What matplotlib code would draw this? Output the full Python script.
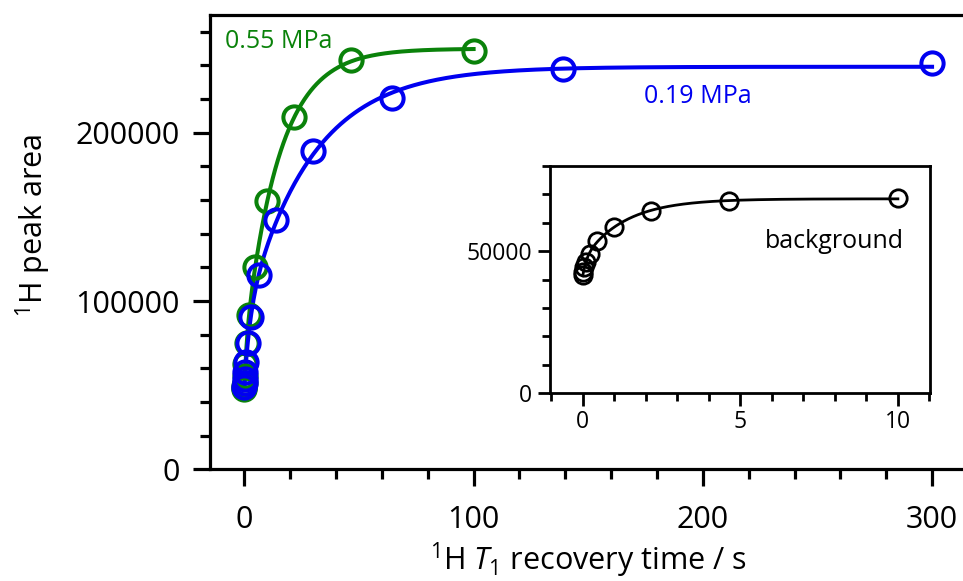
import numpy as np
import matplotlib
matplotlib.use("Agg")
import matplotlib.pyplot as plt
from matplotlib.ticker import MultipleLocator

plt.rcParams["font.family"] = ["Open Sans", "DejaVu Sans"]
plt.rcParams["mathtext.fontset"] = "custom"
plt.rcParams["mathtext.rm"] = "Open Sans"
plt.rcParams["mathtext.it"] = "Open Sans:italic"

# Saturation-recovery data (recovery time in s, 1H peak area)
green_t = [0.01, 0.0215, 0.0464, 0.1, 0.215, 0.464, 1, 2.15, 4.64, 10, 21.5, 46.4, 100]
green_area = [47500, 48300, 49500, 51500, 55500, 62500, 75000, 91500, 120200,
              159300, 209300, 243000, 248600]

blue_t = [0.03, 0.0646, 0.139, 0.3, 0.646, 1.39, 3, 6.46, 13.9, 30, 64.6, 139, 300]
blue_area = [49200, 51200, 53600, 58100, 64000, 75000, 90800, 115700, 148000,
             189000, 220800, 237700, 241200]

bg_t = [0.01, 0.0215, 0.0464, 0.1, 0.215, 0.464, 1, 2.15, 4.64, 10]
bg_area = [41600, 42800, 44500, 46300, 48900, 53600, 58600, 64200, 67700, 68600]

green_label = "0.55 MPa"
blue_label = "0.19 MPa"
bg_label = "background"

GREEN = "#0a820a"
BLUE = "#0000f0"


def biexp_fit(t, y):
    """Least-squares fit of y = A - c1*exp(-t/T1a) - c2*exp(-t/T1b)."""
    t = np.asarray(t, float)
    y = np.asarray(y, float)
    taus = np.geomspace(0.05, 200, 90)
    best = None
    for i, ta in enumerate(taus):
        for tb in taus[i:]:
            M = np.column_stack([np.ones_like(t), -np.exp(-t / ta), -np.exp(-t / tb)])
            coef, *_ = np.linalg.lstsq(M, y, rcond=None)
            r = np.sum((M @ coef - y) ** 2)
            if best is None or r < best[0]:
                best = (r, ta, tb, coef)
    _, ta, tb, c = best
    return lambda x: c[0] - c[1] * np.exp(-x / ta) - c[2] * np.exp(-x / tb)


fig = plt.figure(figsize=(9.63, 5.81), dpi=100)
ax = fig.add_axes([210 / 963, (581 - 469.3) / 581, (963 - 210) / 963, (469.3 - 15) / 581])

for t, y, col, tmax in [(green_t, green_area, GREEN, 100), (blue_t, blue_area, BLUE, 300)]:
    f = biexp_fit(t, y)
    tt = np.linspace(0, tmax, 600)
    ax.plot(tt, f(tt), color=col, lw=2.9, zorder=2)
    ax.plot(t, y, "o", ms=16, mfc="none", mec=col, mew=2.9, zorder=3)

ax.set_xlim(-15, 313.5)
ax.set_ylim(0, 270000)
ax.xaxis.set_major_locator(MultipleLocator(100))
ax.xaxis.set_minor_locator(MultipleLocator(20))
ax.yaxis.set_major_locator(MultipleLocator(100000))
ax.yaxis.set_minor_locator(MultipleLocator(20000))
for s in ["left", "bottom", "top"]:
    ax.spines[s].set_linewidth(2.3)
ax.spines["right"].set_visible(False)
ax.tick_params(which="major", length=12, width=2.3, labelsize=22, pad=10)
ax.tick_params(which="minor", length=7, width=2.3)
ax.tick_params(axis="x", which="major", pad=14)

ax.text(-8.5, 254300, green_label, color=GREEN, fontsize=18, va="center", ha="left")
ax.text(174.5, 221300, blue_label, color=BLUE, fontsize=18, va="center", ha="left")

fig.text(33 / 963, 1 - 225 / 581, "$^{1}$H peak area", rotation=90,
         ha="center", va="center", fontsize=22)
fig.text(588 / 963, 1 - 570 / 581, "$^{1}$H $T_{1}$ recovery time / s",
         ha="center", va="baseline", fontsize=22)

# Inset: background signal
ins = fig.add_axes([550 / 963, (581 - 393.3) / 581, 380 / 963, (393.3 - 166) / 581])
fb = biexp_fit(bg_t, bg_area)
tt = np.linspace(0, 10, 400)
ins.plot(tt, fb(tt), color="black", lw=2.0, zorder=2)
ins.plot(bg_t, bg_area, "o", ms=12.5, mfc="none", mec="black", mew=2.0, zorder=3)
ins.set_xlim(-1.04, 11.02)
ins.set_ylim(0, 80000)
ins.xaxis.set_major_locator(MultipleLocator(5))
ins.xaxis.set_minor_locator(MultipleLocator(1))
ins.yaxis.set_major_locator(MultipleLocator(50000))
ins.yaxis.set_minor_locator(MultipleLocator(10000))
for s in ins.spines.values():
    s.set_linewidth(2.0)
ins.tick_params(which="major", length=9, width=2.0, labelsize=16.5, pad=4)
ins.tick_params(which="minor", length=5.5, width=2.0)
ins.tick_params(axis="x", which="major", pad=3)
ins.text(0.93, 0.67, bg_label, transform=ins.transAxes, ha="right", va="center", fontsize=18)

fig.savefig("out.png", dpi=100)
